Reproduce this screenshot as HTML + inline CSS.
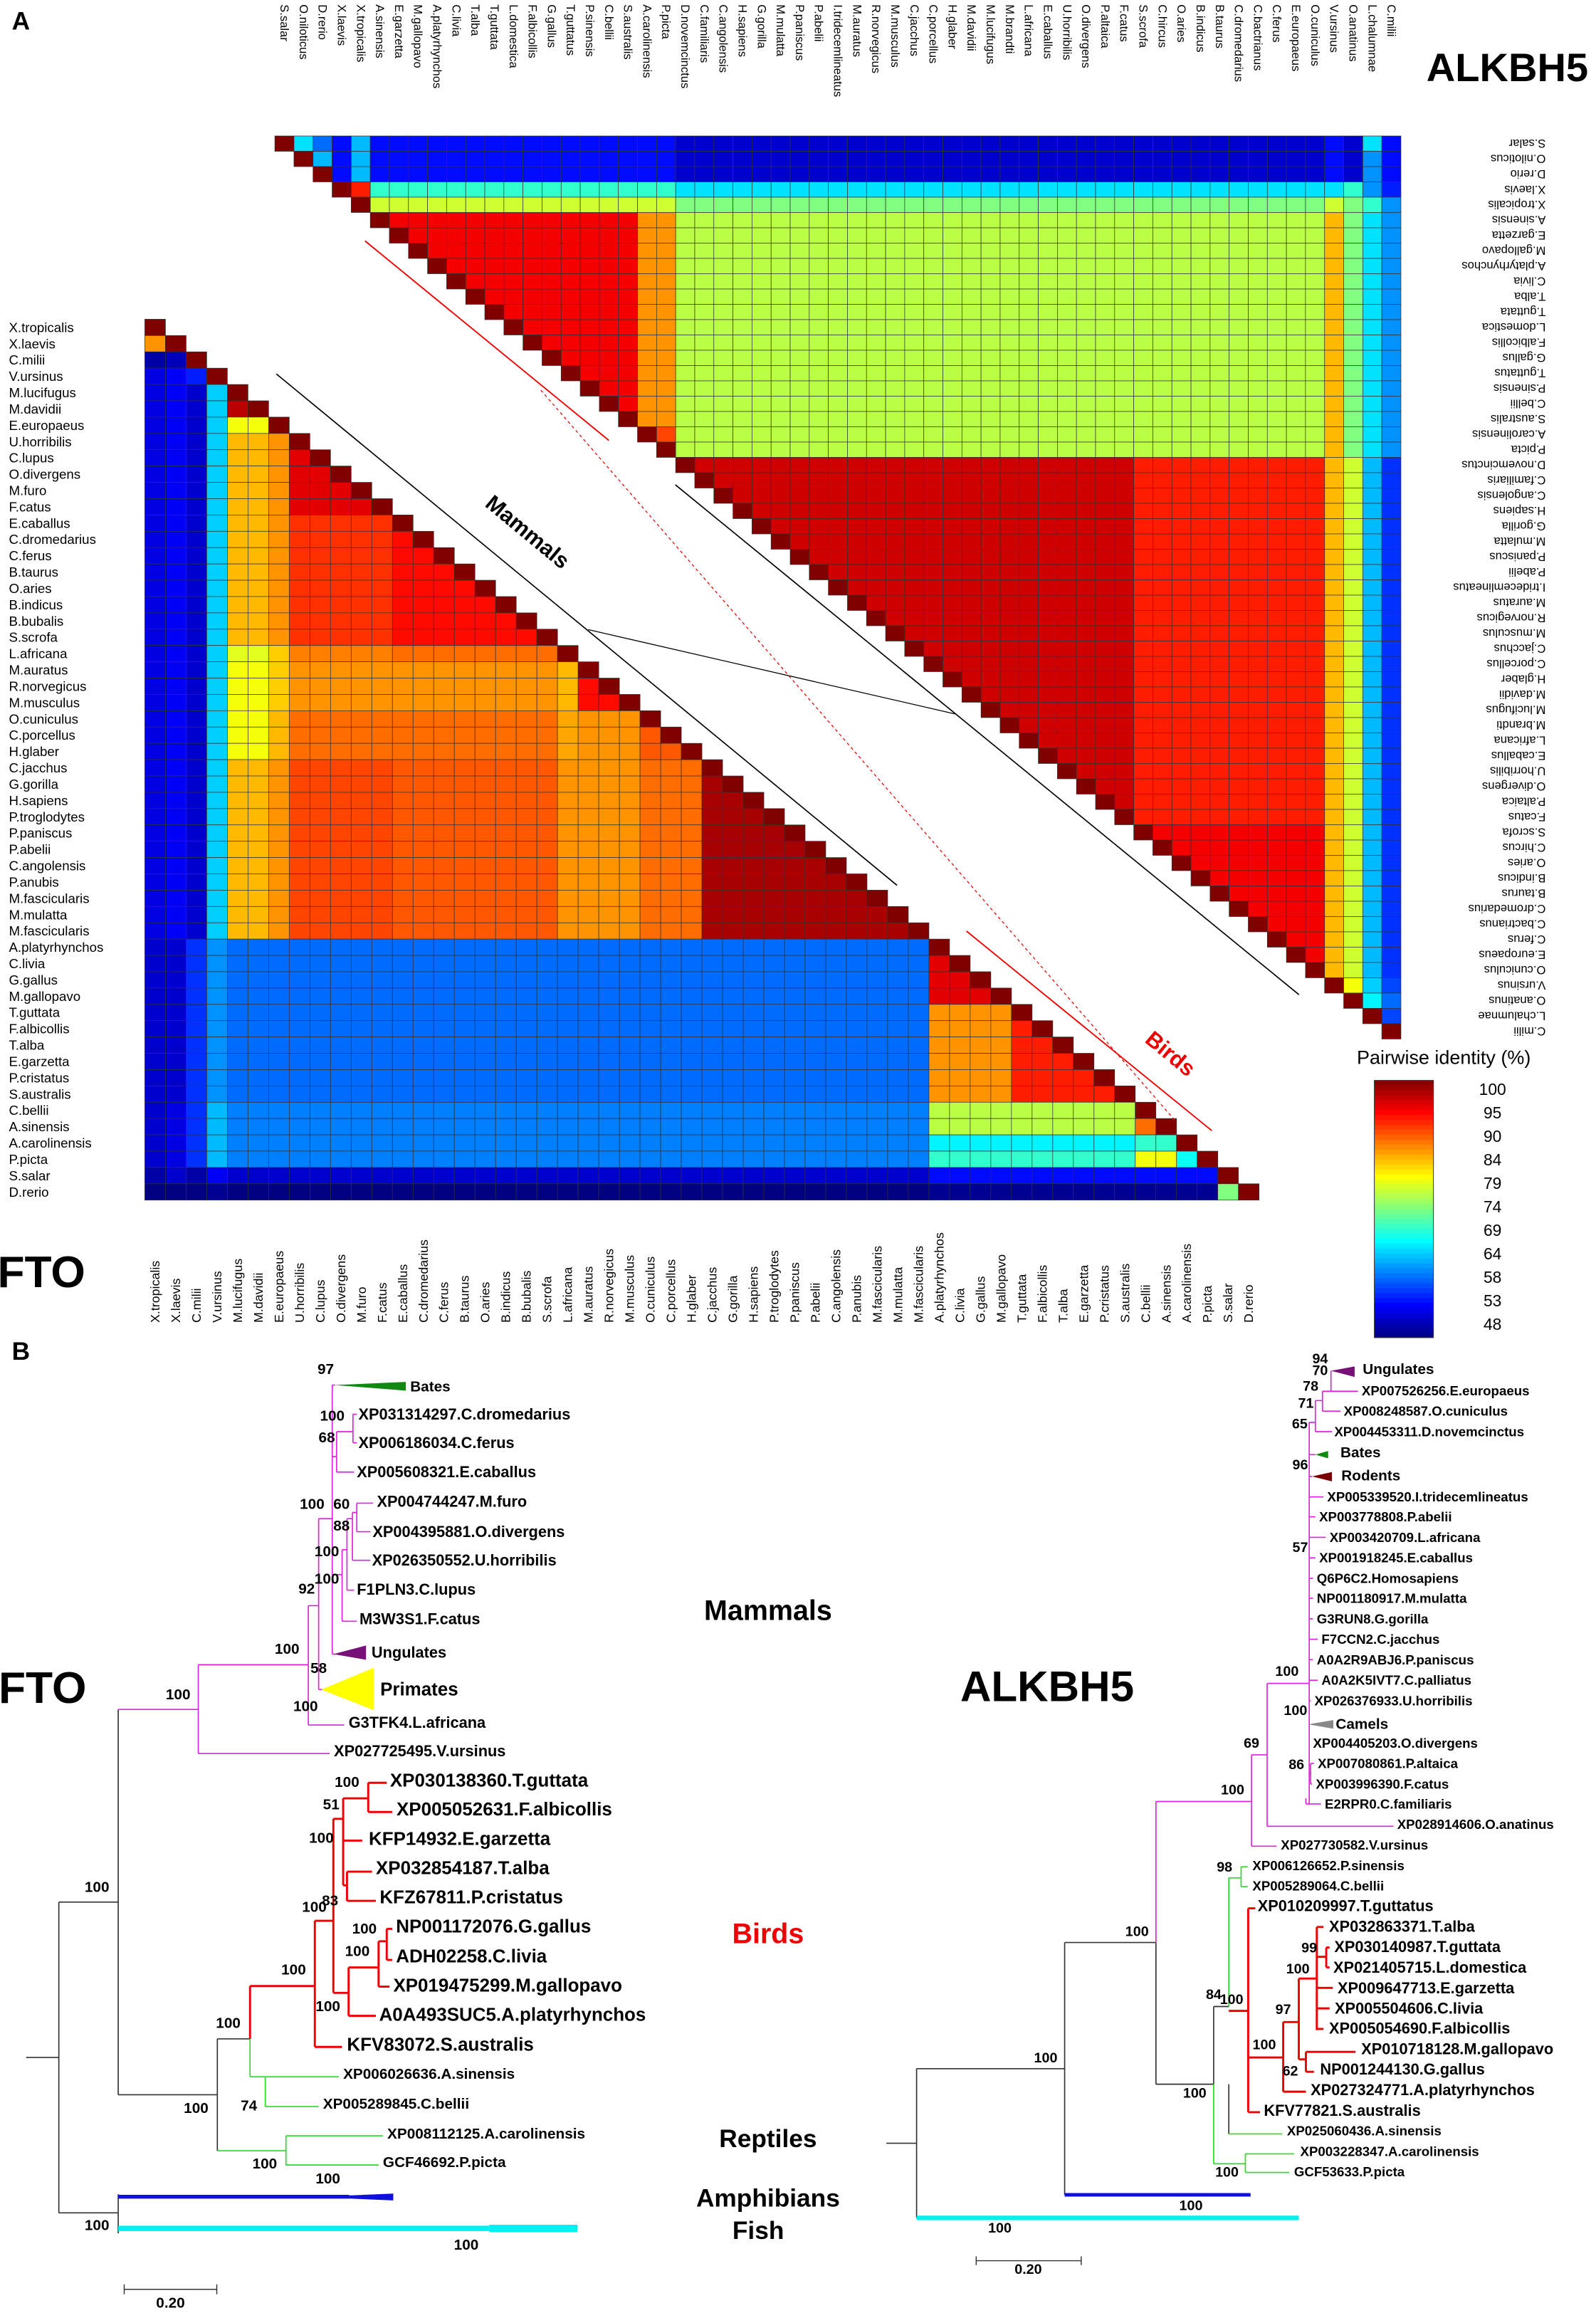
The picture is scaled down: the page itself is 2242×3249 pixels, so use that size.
<!DOCTYPE html>
<html><head><meta charset="utf-8"><title>FTO ALKBH5 identity heatmaps and phylogenetic trees</title>
<style>html,body{margin:0;padding:0;background:#fff}svg{display:block}text{font-family:"Liberation Sans",sans-serif}</style>
</head><body>
<svg id="fig" xmlns="http://www.w3.org/2000/svg" width="2242" height="3249" viewBox="0 0 1080 1565" preserveAspectRatio="none">
<rect x="0" y="0" width="1080" height="1565" fill="#fff"/>
<text x="8" y="20" font-size="17" font-weight="bold">A</text>
<text x="8" y="920" font-size="17" font-weight="bold">B</text>
<text x="1020" y="55" font-size="27" font-weight="bold" text-anchor="middle">ALKBH5</text>
<text x="28" y="871" font-size="30" font-weight="bold" text-anchor="middle">FTO</text>
<text x="977" y="720" font-size="13" text-anchor="middle">Pairwise identity (%)</text>
<g id="hm"></g>
<g id="ann">
<line x1="187" y1="253" x2="607" y2="599" stroke="#000" stroke-width="0.8"/>
<line x1="457" y1="328" x2="879" y2="673" stroke="#000" stroke-width="0.8"/>
<line x1="398" y1="426" x2="646" y2="483" stroke="#000" stroke-width="0.6"/>
<line x1="247" y1="163" x2="412" y2="298" stroke="#e00" stroke-width="0.9"/>
<line x1="366" y1="264" x2="795" y2="758" stroke="#e00" stroke-width="0.6" stroke-dasharray="2,2"/>
<line x1="654" y1="630" x2="820" y2="765" stroke="#e00" stroke-width="0.9"/>
<text x="357" y="365" font-size="15" font-weight="bold" text-anchor="middle" transform="rotate(39.6 357 360)">Mammals</text>
<text x="792" y="718" font-size="15" font-weight="bold" fill="#e00" text-anchor="middle" transform="rotate(39.6 792 713)">Birds</text>
</g>
<g id="cb"></g>
<g id="trees"></g>
</svg>
<script>
const ftoSpecies=["X.tropicalis","X.laevis","C.milii","V.ursinus","M.lucifugus","M.davidii","E.europaeus","U.horribilis","C.lupus","O.divergens","M.furo","F.catus","E.caballus","C.dromedarius","C.ferus","B.taurus","O.aries","B.indicus","B.bubalis","S.scrofa","L.africana","M.auratus","R.norvegicus","M.musculus","O.cuniculus","C.porcellus","H.glaber","C.jacchus","G.gorilla","H.sapiens","P.troglodytes","P.paniscus","P.abelii","C.angolensis","P.anubis","M.fascicularis","M.mulatta","M.fascicularis","A.platyrhynchos","C.livia","G.gallus","M.gallopavo","T.guttata","F.albicollis","T.alba","E.garzetta","P.cristatus","S.australis","C.bellii","A.sinensis","A.carolinensis","P.picta","S.salar","D.rerio"];
const ftoGroups=["XT","XL","CM","MA","BA","BA","EE","CA","CA","CA","CA","CA","UN","UN","UN","UN","UN","UN","UN","UN","LA","RO","RO","RO","GL","GL","GL","PR","PR","PR","PR","PR","PR","PR","PR","PR","PR","PR","B1","B1","B1","B1","B2","B2","B2","B2","B2","B2","RT","RT","AC","PP","SS","DR"];
const ftoGroupNames=["XT","XL","CM","MA","BA","EE","CA","UN","LA","RO","GL","PR","B1","B2","RT","AC","PP","SS","DR"];
const ftoGroupClasses=["XT","XL","CM","MA","M","M","M","M","M","M","M","M","AV","AV","RE","RE","RE","SS","DR"];
const ftoGroupPairs=[["BA","BA",97],["EE","BA",80],["CA","BA",84],["CA","EE",86],["CA","CA",95],["UN","BA",84],["UN","EE",86],["UN","CA",91],["UN","UN",93],["LA","BA",79],["LA","EE",83],["LA","CA",87],["LA","UN",88],["RO","BA",80],["RO","EE",83],["RO","CA",86],["RO","UN",86],["RO","LA",84],["RO","RO",93],["GL","BA",80],["GL","EE",84],["GL","CA",88],["GL","UN",88],["GL","LA",85],["GL","RO",86],["GL","GL",89],["PR","BA",84],["PR","EE",86],["PR","CA",90],["PR","UN",89],["PR","LA",86],["PR","RO",86],["PR","GL",88],["PR","PR",98],["B1","B1",95],["B2","B2",92],["B1","B2",86],["RT","B1",77],["RT","B2",77],["AC","B1",67],["AC","B2",67],["PP","B1",70],["PP","B2",70],["RT","RT",88],["AC","RT",70],["PP","RT",80],["PP","AC",68]];
const ftoClassPairs=[["M","M",88],["M","MA",65],["M","XT",53],["M","XL",54],["M","CM",52],["M","AV",60],["M","RE",61],["M","SS",52],["M","DR",48],["MA","AV",62],["MA","RE",64],["MA","XT",53],["MA","XL",54],["MA","CM",56],["MA","SS",54],["MA","DR",49],["AV","XT",52],["AV","XL",52],["AV","CM",57],["AV","SS",55],["AV","DR",49],["AV","RE",72],["RE","XT",52],["RE","XL",53],["RE","CM",57],["RE","SS",55],["RE","DR",49],["XT","XL",86],["XT","CM",50],["XL","CM",51],["XT","SS",50],["XL","SS",52],["CM","SS",50],["SS","DR",74],["XT","DR",47],["XL","DR",47],["CM","DR",47]];

const alkSpecies=["S.salar","O.niloticus","D.rerio","X.laevis","X.tropicalis","A.sinensis","E.garzetta","M.gallopavo","A.platyrhynchos","C.livia","T.alba","T.guttata","L.domestica","F.albicollis","G.gallus","T.guttatus","P.sinensis","C.bellii","S.australis","A.carolinensis","P.picta","D.novemcinctus","C.familiaris","C.angolensis","H.sapiens","G.gorilla","M.mulatta","P.paniscus","P.abelii","I.tridecemlineatus","M.auratus","R.norvegicus","M.musculus","C.jacchus","C.porcellus","H.glaber","M.davidii","M.lucifugus","M.brandti","L.africana","E.caballus","U.horribilis","O.divergens","P.altaica","F.catus","S.scrofa","C.hircus","O.aries","B.indicus","B.taurus","C.dromedarius","C.bactrianus","C.ferus","E.europaeus","O.cuniculus","V.ursinus","O.anatinus","L.chalumnae","C.milii"];
const alkGroups=["SS","ON","DR","XL","XT","AV","AV","AV","AV","AV","AV","AV","AV","AV","AV","AV","AV","AV","AV","AC","PP","M1","M1","M1","M1","M1","M1","M1","M1","M1","M1","M1","M1","M1","M1","M1","M1","M1","M1","M1","M1","M1","M1","M1","M1","M2","M2","M2","M2","M2","M2","M2","M2","M2","M2","VU","OA","LC","CM"];
const alkGroupNames=["SS","ON","DR","XL","XT","AV","AC","PP","M1","M2","VU","OA","LC","CM"];
const alkGroupClasses=["F","F","F","XL","XT","SA","SA","SA","M","M","VU","OA","LC","CM"];
const alkGroupPairs=[["SS","ON",66],["SS","DR",60],["ON","DR",64],["SS","LC",66],["AV","AV",94],["AV","AC",86],["AV","PP",86],["AC","PP",90],["M1","M1",96],["M1","M2",92],["M2","M2",94]];
const alkClassPairs=[["F","F",63],["F","XL",55],["F","XT",64],["F","SA",55],["F","M",52],["F","VU",55],["F","OA",52],["F","LC",62],["F","CM",55],["XL","XT",92],["XL","SA",70],["XL","M",66],["XL","VU",66],["XL","OA",70],["XL","LC",62],["XL","CM",56],["XT","SA",78],["XT","M",74],["XT","VU",78],["XT","OA",74],["XT","LC",70],["XT","CM",62],["SA","SA",90],["SA","M",77],["SA","VU",84],["SA","OA",74],["SA","LC",66],["SA","CM",62],["M","M",94],["M","VU",84],["M","OA",78],["M","LC",64],["M","CM",57],["VU","OA",80],["VU","LC",65],["VU","CM",58],["OA","LC",67],["OA","CM",60],["LC","CM",58]];

const colorbarTicks=[100,95,90,84,79,74,69,64,58,53,48];
const vMin=48, vMax=100;

const NS='http://www.w3.org/2000/svg';
function mk(tag,attrs,parent){const e=document.createElementNS(NS,tag);for(const k in attrs)e.setAttribute(k,attrs[k]);parent.appendChild(e);return e;}
function cl(v){return Math.max(0,Math.min(1,v));}
function jet(v){const t=cl((v-vMin)/(vMax-vMin));const r=cl(1.5-Math.abs(4*t-3)),g=cl(1.5-Math.abs(4*t-2)),b=cl(1.5-Math.abs(4*t-1));return 'rgb('+Math.round(r*255)+','+Math.round(g*255)+','+Math.round(b*255)+')';}
function findPair(list,a,b){for(const p of list){if((p[0]===a&&p[1]===b)||(p[0]===b&&p[1]===a))return p[2];}return null;}
function identity(i,j,groups,gNames,gClasses,gPairs,cPairs){
  if(i===j)return 100;
  const g1=groups[i],g2=groups[j];
  let v=findPair(gPairs,g1,g2); if(v!==null)return v;
  const c1=gClasses[gNames.indexOf(g1)],c2=gClasses[gNames.indexOf(g2)];
  v=findPair(cPairs,c1,c2); return v===null?50:v;
}
const hm=document.getElementById('hm');
// FTO lower triangle
const fN=ftoSpecies.length, fx0=98, fy0=216, fcw=(852-98)/fN, frh=(812-216)/fN;
const fx=j=>fx0+j*fcw, fy=i=>fy0+i*frh;
const gF=mk('g',{},hm);


for(let i=0;i<fN;i++){for(let j=0;j<=i;j++){
  const v=identity(i,j,ftoGroups,ftoGroupNames,ftoGroupClasses,ftoGroupPairs,ftoClassPairs);
  const r=mk('rect',{x:fx(j).toFixed(2),y:fy(i).toFixed(2),width:fcw.toFixed(2),height:frh.toFixed(2),fill:jet(v),stroke:'#333','stroke-width':0.35},gF);
  
  
}}
for(let i=0;i<fN;i++){
  const t=mk('text',{x:6,y:(fy(i)+frh/2).toFixed(2),'font-size':9,'dominant-baseline':'central'},gF);
  t.textContent=ftoSpecies[i];
  
  
  const xc=(fx(i)+fcw/2).toFixed(2);
  const b=mk('text',{x:0,y:0,'font-size':8.6,'dominant-baseline':'central',transform:'translate('+xc+',895) rotate(-90)'},gF);
  b.textContent=ftoSpecies[i];
  
  
}
// ALKBH5 upper triangle
const aN=alkSpecies.length, ax0=186, ay0=92, acw=(948-186)/aN, arh=(703-92)/aN;
const ax=j=>ax0+j*acw, ay=i=>ay0+i*arh;
const gA=mk('g',{},hm);


for(let i=0;i<aN;i++){for(let j=i;j<aN;j++){
  const v=identity(i,j,alkGroups,alkGroupNames,alkGroupClasses,alkGroupPairs,alkClassPairs);
  const r=mk('rect',{x:ax(j).toFixed(2),y:ay(i).toFixed(2),width:acw.toFixed(2),height:arh.toFixed(2),fill:jet(v),stroke:'#333','stroke-width':0.35},gA);
  
  
}}
for(let i=0;i<aN;i++){
  const xc=(ax(i)+acw/2).toFixed(2);
  const t=mk('text',{x:0,y:0,'font-size':8,'dominant-baseline':'central',transform:'translate('+xc+',3) rotate(90)'},gA);
  t.textContent=alkSpecies[i];
  
  
  const yc=(ay(i)+arh/2).toFixed(2);
  const r=mk('text',{x:0,y:0,'font-size':8,'dominant-baseline':'central',transform:'translate(1046,'+yc+') rotate(180)'},gA);
  r.textContent=alkSpecies[i];
  
  
}
// colorbar
const cb=document.getElementById('cb');
const cbTop=731, cbBot=905, steps=52;
for(let k=0;k<steps;k++){
  const v=vMax-(k+0.5)*(vMax-vMin)/steps;
  const r=mk('rect',{x:930,y:(cbTop+k*(cbBot-cbTop)/steps).toFixed(2),width:40,height:((cbBot-cbTop)/steps+0.3).toFixed(2),fill:jet(v)},cb);
  
  
}
const cbo=mk('rect',{x:930,y:cbTop,width:40,height:cbBot-cbTop,fill:'none',stroke:'#333','stroke-width':0.5},cb);


colorbarTicks.forEach((v,k)=>{
  const y=737+k*(896-737)/(colorbarTicks.length-1);
  const t=mk('text',{x:1010,y:y.toFixed(2),'font-size':11,'text-anchor':'middle','dominant-baseline':'central'},cb);
  t.textContent=String(v);
  
  
});

// trees
const trees=document.getElementById('trees');
const TL=(x,y)=>[x*0.3686,905.6+y*0.4205];
const TR=(x,y)=>[578+x*0.3201,905.6+y*0.4205];
const C={k:'#333',m:'#e020e0',r:'#ee0000',g:'#22dd22',b:'#1010dd',c:'#00f0f0'};
const W={k:0.8,m:0.8,r:1.4,g:0.8,b:3,c:3.6};
function segs(list,T,name){for(const s of list){const a=T(s[0],s[1]),b=T(s[2],s[3]);const c=s[4];
  const l=mk('line',{x1:a[0].toFixed(2),y1:a[1].toFixed(2),x2:b[0].toFixed(2),y2:b[1].toFixed(2),stroke:C[c],'stroke-width':s[5]||W[c]},trees);
  
  }}
function labels(list,T,name){for(const s of list){const p=T(s[1],s[2]);
  const t=mk('text',{x:p[0].toFixed(2),y:p[1].toFixed(2),'font-size':s[3],'font-weight':'bold','dominant-baseline':'central','text-anchor':s[5]||'start',fill:s[4]||'#000'},trees);
  t.textContent=s[0];
  
  }}
function tri(pts,T,fill,name){const p=pts.map(q=>T(q[0],q[1]).map(v=>v.toFixed(2)).join(',')).join(' ');
  const e=mk('polygon',{points:p,fill:fill},trees);
  
  }

const leftSegs=[[48,1157,108,1157,'k'],[108,907,108,1407,'k'],[108,907,217,907,'k'],[217,597,217,1217,'k'],[108,1407,217,1407,'k'],[217,1377,217,1440,'k'],[217,1217,399,1217,'k'],[399,1127,399,1307,'k'],[399,1127,459,1127,'k'],
[217,597,364,597,'m'],[364,525,364,668,'m'],[364,668,605,668,'m'],[364,525,566,525,'m'],[566,430,566,622,'m'],[566,622,632,622,'m'],[566,430,585,430,'m'],[585,290,585,565,'m'],[585,565,595,565,'m'],[585,290,610,290,'m'],[610,75,610,508,'m'],[610,75,615,75,'m'],[610,508,615,508,'m'],[610,190,618,190,'m'],[618,150,618,215,'m'],[618,215,650,215,'m'],[618,150,648,150,'m'],[648,122,648,168,'m'],[648,122,655,122,'m'],[648,168,655,168,'m'],[610,380,628,380,'m'],[628,340,628,455,'m'],[628,455,655,455,'m'],[628,340,637,340,'m'],[637,290,637,405,'m'],[637,405,650,405,'m'],[637,290,647,290,'m'],[647,280,647,357,'m'],[647,357,680,357,'m'],[647,280,655,280,'m'],[655,265,655,311,'m'],[655,265,685,265,'m'],[655,311,680,311,'m'],
[459,1042,459,1127,'r'],[459,1042,578,1042,'r'],[578,937,578,1140,'r'],[578,1140,628,1140,'r'],[578,937,612,937,'r'],[612,773,612,1053,'r'],[612,1053,640,1053,'r'],[640,1012,640,1090,'r'],[640,1090,690,1090,'r'],[640,1012,695,1012,'r'],[695,970,695,1043,'r'],[695,1043,715,1043,'r'],[695,970,710,970,'r'],[710,950,710,1000,'r'],[710,950,720,950,'r'],[710,1000,720,1000,'r'],[612,773,630,773,'r'],[630,740,630,880,'r'],[630,808,665,808,'r'],[630,880,637,880,'r'],[637,858,637,905,'r'],[637,858,683,858,'r'],[637,905,690,905,'r'],[630,740,676,740,'r'],[676,715,676,762,'r'],[676,715,710,715,'r'],[676,762,720,762,'r'],
[459,1127,459,1188,'g'],[459,1188,487,1188,'g'],[487,1188,487,1236,'g'],[487,1188,622,1188,'g'],[487,1236,585,1236,'g'],[399,1307,525,1307,'g'],[525,1283,525,1330,'g'],[525,1283,703,1283,'g'],[525,1330,695,1330,'g'],
[217,1381,641,1381,'b',2.6],[217,1432,898,1432,'c',3.6],[898,1432,1060,1432,'c',5]];
segs(leftSegs,TL,'fto-tree');
tri([[641,1379],[722,1376],[722,1387],[641,1384]],TL,'#1010dd','fto-amphibians-wedge');
tri([[614,75],[745,70],[745,84]],TL,'#118811','fto-bates-clade');
tri([[612,508],[672,494],[672,517]],TL,'#771177','fto-ungulates-clade');
tri([[590,565],[686,530],[686,598]],TL,'#ffff00','fto-primates-clade');
const leftLabels=[["Bates",753,78,10],["XP031314297.C.dromedarius",658,122,10.5],["XP006186034.C.ferus",658,168,10.5],["XP005608321.E.caballus",655,215,10.5],["XP004744247.M.furo",692,262,10.5],["XP004395881.O.divergens",684,311,10.5],["XP026350552.U.horribilis",683,357,10.5],["F1PLN3.C.lupus",655,404,10.5],["M3W3S1.F.catus",660,451,10.5],["Ungulates",682,505,10.5],["Primates",698,565,12.5],["G3TFK4.L.africana",640,618,10.5],["XP027725495.V.ursinus",613,664,10.5],
["XP030138360.T.guttata",716,712,12.5],["XP005052631.F.albicollis",728,758,12.5],["KFP14932.E.garzetta",677,806,12.5],["XP032854187.T.alba",690,853,12.5],["KFZ67811.P.cristatus",697,900,12.5],["NP001172076.G.gallus",727,947,12.5],["ADH02258.C.livia",727,995,12.5],["XP019475299.M.gallopavo",722,1042,12.5],["A0A493SUC5.A.platyrhynchos",696,1089,12.5],["KFV83072.S.australis",637,1137,12.5],
["XP006026636.A.sinensis",630,1184,10],["XP005289845.C.bellii",593,1232,10],["XP008112125.A.carolinensis",711,1280,10],["GCF46692.P.picta",703,1326,10]];
labels(leftLabels,TL,'fto-tree-leaf-label');
const leftBoot=[["97",598,50],["100",610,125],["68",600,160],["100",573,267],["60",627,267],["88",627,302],["100",600,343],["92",563,403],["100",600,387],["100",527,500],["58",585,531],["100",561,592],["100",327,573],["100",637,714],["51",608,750],["100",590,804],["100",577,915],["83",606,905],["100",669,950],["100",656,986],["100",539,1016],["100",602,1075],["100",419,1102],["74",457,1235],["100",360,1239],["100",486,1328],["100",602,1352],["100",178,883],["100",178,1427],["100",856,1459]];
labels(leftBoot.map(b=>[b[0],b[1],b[2],10,'#000','middle']),TL,'fto-bootstrap-value');
labels([["Mammals",1410,438,19,'#000','middle'],["Birds",1410,958,19,'#e00','middle'],["Reptiles",1410,1288,17,'#000','middle'],["Amphibians",1410,1384,17,'#000','middle'],["Fish",1392,1436,17,'#000','middle'],["FTO",78,563,30,'#000','middle']],TL,'fto-tree-group-label');
segs([[228,1530,398,1530,'k',0.7],[228,1522,228,1538,'k',0.7],[398,1522,398,1538,'k',0.7]],TL,'fto-scale-bar');
labels([["0.20",313,1552,10,'#000','middle']],TL,'fto-scale-label');

const rightSegs=[[68,1295,132,1295,'k'],[132,1175,132,1415,'k'],[132,1175,445,1175,'k'],[445,972,445,1378,'k'],[445,972,638,972,'k'],[638,972,638,1200,'k'],[638,1200,760,1200,'k'],[760,1075,760,1200,'k'],[760,1075,792,1075,'k'],[792,1200,792,1280,'k'],
[132,1415,940,1415,'c',3],[445,1378,838,1378,'b',2.4],
[638,745,638,972,'m'],[638,745,840,745,'m'],[840,670,840,817,'m'],[840,817,893,817,'m'],[840,670,873,670,'m'],[873,555,873,785,'m'],[873,785,1140,785,'m'],[873,555,962,555,'m'],[962,135,962,750,'m'],[962,135,975,135,'m'],[975,100,975,150,'m'],[975,150,1010,150,'m'],[975,100,990,100,'m'],[990,85,990,117,'m'],[990,117,1028,117,'m'],[990,85,1008,85,'m'],[1008,52,1008,85,'m'],[1008,85,1065,85,'m'],[962,187,975,187,'m'],[962,222,968,222,'m'],[962,255,992,255,'m'],[962,287,975,287,'m'],[962,320,997,320,'m'],[962,353,975,353,'m'],[962,386,970,386,'m'],[962,418,970,418,'m'],[962,451,970,451,'m'],[962,484,980,484,'m'],[962,517,970,517,'m'],[962,550,980,550,'m'],[962,583,965,583,'m'],[962,651,962,651,'m'],[962,700,965,700,'m'],[965,684,965,717,'m'],[965,684,972,684,'m'],[965,717,968,717,'m'],[955,749,987,749,'m'],[955,740,955,749,'m'],
[792,868,792,1075,'g'],[792,868,818,868,'g'],[818,850,818,882,'g'],[818,850,832,850,'g'],[818,882,832,882,'g'],[792,1280,905,1280,'g'],[760,1200,760,1328,'g'],[760,1328,827,1328,'g'],[827,1312,827,1342,'g'],[827,1312,930,1312,'g'],[827,1342,920,1342,'g'],
[792,1082,833,1082,'r'],[833,917,833,1245,'r'],[833,917,848,917,'r'],[833,1245,858,1245,'r'],[833,1157,907,1157,'r'],[907,1100,907,1212,'r'],[907,1212,955,1212,'r'],[907,1100,940,1100,'r'],[940,1030,940,1160,'r'],[940,1160,955,1160,'r'],[955,1148,955,1180,'r'],[955,1148,1060,1148,'r'],[955,1180,972,1180,'r'],[940,1030,978,1030,'r'],[978,947,978,1113,'r'],[978,947,992,947,'r'],[978,995,998,995,'r'],[998,980,998,1012,'r'],[998,980,1005,980,'r'],[998,1012,1005,1012,'r'],[978,1045,1012,1045,'r'],[978,1078,1005,1078,'r'],[978,1111,992,1111,'r']];
segs(rightSegs,TR,'alkbh5-tree');
tri([[1008,52],[1058,45],[1058,62]],TR,'#771177','alkbh5-ungulates-clade');
tri([[975,187],[1002,181],[1002,193]],TR,'#118811','alkbh5-bates-clade');
tri([[968,222],[1010,215],[1010,230]],TR,'#7a0000','alkbh5-rodents-clade');
tri([[960,621],[1013,614],[1013,628]],TR,'#888888','alkbh5-camels-clade');
const rm=9, rb=10.5;
const rightLabels=[["Ungulates",1075,50,10],["XP007526256.E.europaeus",1073,84,rm],["XP008248587.O.cuniculus",1035,117,rm],["XP004453311.D.novemcinctus",1015,150,rm],["Bates",1028,184,10],["Rodents",1030,221,10],["XP005339520.I.tridecemlineatus",1000,255,rm],["XP003778808.P.abelii",983,287,rm],["XP003420709.L.africana",1005,320,rm],["XP001918245.E.caballus",983,353,rm],["Q6P6C2.Homosapiens",978,386,rm],["NP001180917.M.mulatta",978,418,rm],["G3RUN8.G.gorilla",978,451,rm],["F7CCN2.C.jacchus",988,484,rm],["A0A2R9ABJ6.P.paniscus",978,517,rm],["A0A2K5IVT7.C.palliatus",988,550,rm],["XP026376933.U.horribilis",973,583,rm],["Camels",1018,621,10],["XP004405203.O.divergens",970,651,rm],["XP007080861.P.altaica",980,684,rm],["XP003996390.F.catus",976,717,rm],["E2RPR0.C.familiaris",995,749,rm],["XP028914606.O.anatinus",1148,782,rm],["XP027730582.V.ursinus",902,815,rm],["XP006126652.P.sinensis",842,848,rm],["XP005289064.C.bellii",842,881,rm],
["XP010209997.T.guttatus",853,913,rb],["XP032863371.T.alba",1004,946,rb],["XP030140987.T.guttata",1015,979,rb],["XP021405715.L.domestica",1013,1012,rb],["XP009647713.E.garzetta",1022,1045,rb],["XP005504606.C.livia",1016,1078,rb],["XP005054690.F.albicollis",1004,1110,rb],["XP010718128.M.gallopavo",1072,1143,rb],["NP001244130.G.gallus",985,1176,rb],["XP027324771.A.platyrhynchos",965,1209,rb],["KFV77821.S.australis",866,1242,rb],
["XP025060436.A.sinensis",915,1275,rm],["XP003228347.A.carolinensis",943,1308,rm],["GCF53633.P.picta",930,1341,rm]];
labels(rightLabels,TR,'alkbh5-tree-leaf-label');
const rightBoot=[["94",985,33],["70",985,52],["78",965,77],["71",955,105],["65",942,138],["96",943,204],["57",943,337],["100",915,536],["100",933,599],["69",840,652],["86",935,686],["100",800,727],["98",783,851],["100",598,955],["84",760,1056],["100",798,1064],["99",962,981],["100",938,1015],["97",907,1080],["100",867,1137],["62",922,1179],["100",405,1158],["100",720,1215],["100",788,1342],["100",712,1396],["100",308,1432]];
labels(rightBoot.map(b=>[b[0],b[1],b[2],9.5,'#000','middle']),TR,'alkbh5-bootstrap-value');
labels([["ALKBH5",408,560,29,'#000','middle']],TR,'alkbh5-tree-title');
segs([[258,1484,480,1484,'k',0.7],[258,1477,258,1491,'k',0.7],[480,1477,480,1491,'k',0.7]],TR,'alkbh5-scale-bar');
labels([["0.20",368,1498,9.5,'#000','middle']],TR,'alkbh5-scale-label');
</script>
</body></html>
